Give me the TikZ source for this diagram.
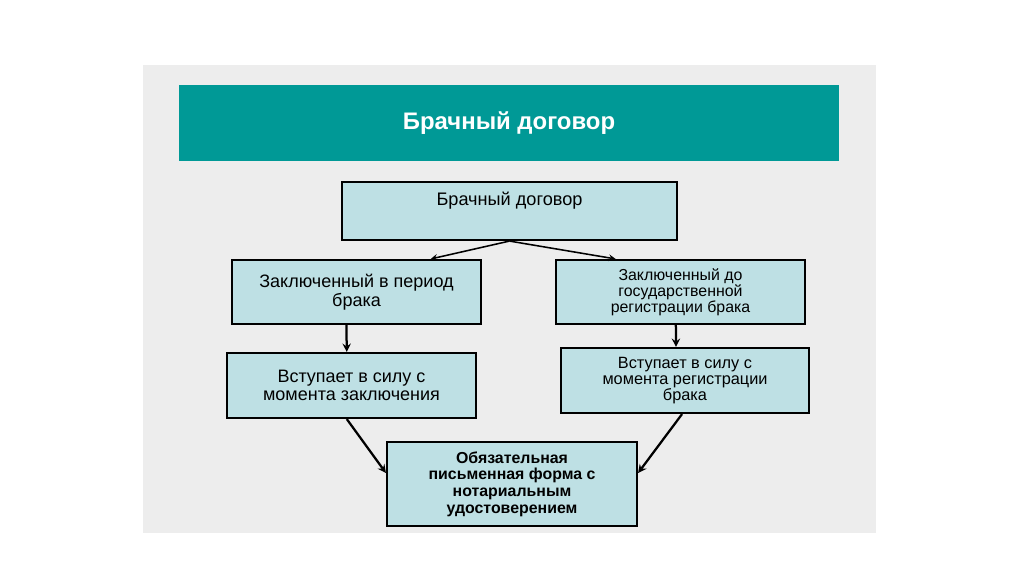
\documentclass[tikz,border=0pt]{standalone}
\usepackage{fontspec}
\setmainfont{Liberation Sans}
\definecolor{fondo}{RGB}{237,237,237}
\definecolor{cabecera}{RGB}{0,153,150}
\definecolor{caja}{RGB}{190,224,228}
\begin{document}
\begin{tikzpicture}[
    x=0.025cm,
    y=-0.025cm,
    >=stealth,
    titulo/.style={
        fill=cabecera,
        minimum width=16.5cm,
        minimum height=1.9cm,
        text=white,
        font=\fontsize{17}{19}\selectfont\bfseries
    },
    bloque/.style={
        draw,
        line width=1.5pt,
        fill=caja,
        minimum width=6.225cm,
        minimum height=1.6cm,
        align=center,
        inner sep=2pt,
        font=\fontsize{12.8}{13.2}\selectfont
    },
    menor/.style={
        bloque,
        font=\fontsize{11.3}{11.3}\selectfont
    },
    final/.style={
        bloque,
        minimum width=6.25cm,
        minimum height=2.1cm,
        font=\fontsize{11.3}{11.8}\selectfont\bfseries
    },
    flecha/.style={->,line width=1.6pt}
]
    \fill[white] (0,0) rectangle (1024,574);
    \fill[fondo] (143,65) rectangle (876,533);

    \node[titulo] (titulo) at (509,123) {Брачный договор};

    \node[bloque,minimum width=8.375cm,minimum height=1.45cm,
          inner ysep=0pt,text height=0.575cm,text depth=0.875cm,
          font=\fontsize{12.9}{14}\selectfont] (contrato) at (509.5,211)
        {Брачный договор};

    \node[bloque] (periodo) at (356.5,292)
        {Заключенный в период\\брака};
    \node[menor] (registro) at (680.5,292)
        {Заключенный до\\государственной\\регистрации брака};

    \node[bloque,minimum height=1.625cm] (vigor-p) at (351.5,385.5)
        {Вступает в силу с\\момента заключения};
    \node[menor,font=\fontsize{11.6}{11.2}\selectfont,
          minimum width=6.2cm,minimum height=1.625cm] (vigor-r) at (685,380.5)
        {Вступает в силу с\\момента регистрации\\брака};

    \node[final] (forma) at (512,484)
        {Обязательная\\письменная форма с\\нотариальным\\удостоверением};

    \draw[->,line width=1.1pt] (contrato.south) -- (periodo.24);
    \draw[->,line width=1.1pt] (contrato.south) -- (registro.153);

    \draw[flecha] (periodo.253) -- (vigor-p.98);
    \draw[flecha] (registro.262) -- (vigor-r.105);

    \draw[flecha] (vigor-p.262) -- (forma.175);
    \draw[flecha] (vigor-r.265) -- (forma.5);
\end{tikzpicture}
\end{document}
